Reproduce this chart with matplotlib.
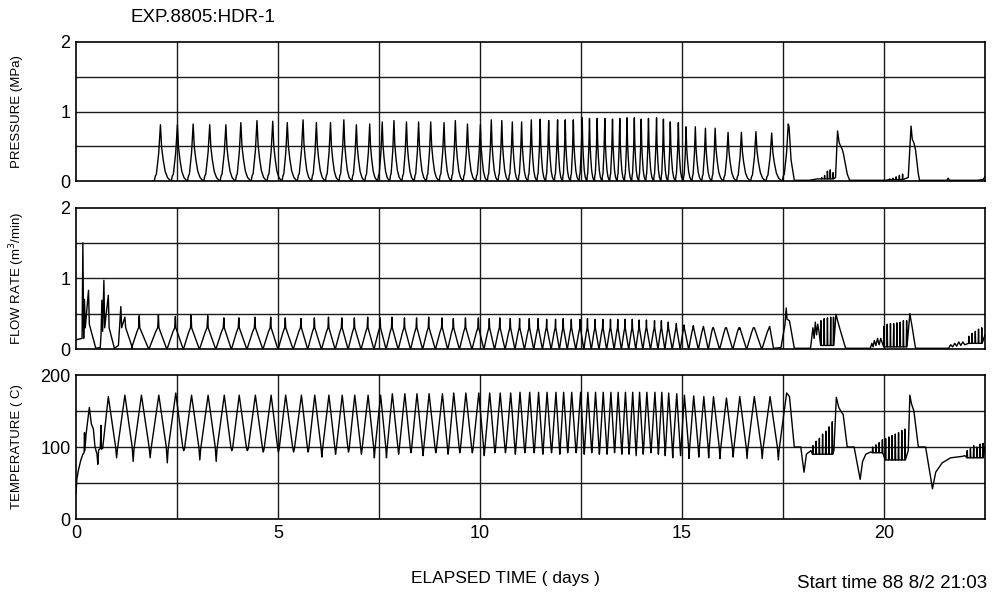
import numpy as np
import matplotlib
matplotlib.use("Agg")
import matplotlib.pyplot as plt

plt.rcParams['font.family'] = ['Liberation Sans', 'DejaVu Sans']

# ---- data (days) ----
# pressure cycle peaks
p_peak_t = [2.09, 2.51, 2.90, 3.31, 3.71, 4.08, 4.48, 4.87, 5.23, 5.62,
            5.95, 6.30, 6.63, 6.94, 7.27, 7.58, 7.87, 8.18, 8.48, 8.78,
            9.11, 9.39, 9.69, 10.01, 10.28, 10.54, 10.80, 11.03, 11.27, 11.49,
            11.70, 11.92, 12.11, 12.31, 12.53, 12.71, 12.90, 13.09, 13.28, 13.46,
            13.64, 13.82, 13.99, 14.17, 14.37, 14.54, 14.71, 14.91, 15.10, 15.33,
            15.58, 15.82, 16.14, 16.47, 16.83, 17.22, 17.63]
p_peak_v = [0.81, 0.81, 0.82, 0.81, 0.81, 0.84, 0.87, 0.86, 0.84, 0.88,
            0.84, 0.84, 0.88, 0.81, 0.82, 0.85, 0.87, 0.85, 0.85, 0.85,
            0.84, 0.87, 0.82, 0.81, 0.88, 0.87, 0.85, 0.85, 0.88, 0.89,
            0.87, 0.88, 0.88, 0.88, 0.91, 0.90, 0.90, 0.90, 0.89, 0.90,
            0.91, 0.91, 0.89, 0.90, 0.91, 0.89, 0.85, 0.84, 0.78, 0.78,
            0.76, 0.76, 0.70, 0.70, 0.71, 0.69, 0.82]
# shape of one pressure spike: (offset as fraction of cycle, fraction of peak)
p_profile = [(-0.36, 0.0), (-0.30, 0.09), (-0.24, 0.12), (-0.10, 0.5), (0.0, 1.0),
             (0.07, 0.6), (0.16, 0.38), (0.28, 0.17), (0.42, 0.06), (0.58, 0.01)]

# pressure after the regular cycles
p_late_t = [17.65, 17.70, 17.78, 18.15, 18.35, 18.80, 18.85, 18.89, 18.93, 18.97,
            19.00, 19.09, 19.15, 20.04, 20.60, 20.67, 20.70, 20.74, 20.78, 20.85,
            20.88, 21.55, 21.59, 21.62, 22.30, 22.45, 22.50]
p_late_v = [0.78, 0.30, 0.01, 0.01, 0.03, 0.05, 0.72, 0.55, 0.50, 0.45,
            0.38, 0.10, 0.01, 0.01, 0.05, 0.79, 0.60, 0.55, 0.45, 0.10,
            0.01, 0.01, 0.04, 0.01, 0.01, 0.02, 0.06]
p_tick1_t = [18.46, 18.53, 18.60, 18.67, 18.74]
p_tick1_v = [0.05, 0.08, 0.14, 0.16, 0.12]
p_tick2_t = [20.14, 20.22, 20.30, 20.38, 20.46]
p_tick2_v = [0.03, 0.04, 0.06, 0.08, 0.10]

# flow rate
f_early_t = [0.0, 0.15, 0.17, 0.19, 0.21, 0.23, 0.31, 0.33, 0.49, 0.60,
             0.62, 0.64, 0.66, 0.69, 0.71, 0.80, 0.82, 0.95, 1.05, 1.11,
             1.13, 1.21, 1.23, 1.40]
f_early_v = [0.13, 0.15, 1.50, 0.15, 0.70, 0.30, 0.83, 0.35, 0.01, 0.02,
             0.20, 0.69, 0.25, 0.97, 0.30, 0.76, 0.30, 0.01, 0.05, 0.60,
             0.30, 0.45, 0.30, 0.01]
f_lead = 0.05  # flow peaks come slightly before pressure peaks
f_first_t = 1.565
f_peak_v = [0.47, 0.48, 0.46, 0.48, 0.47, 0.44, 0.44, 0.45, 0.45, 0.44,
            0.43, 0.44, 0.45, 0.44, 0.44, 0.45, 0.44, 0.45, 0.44, 0.44,
            0.45, 0.44, 0.43, 0.44, 0.44, 0.43, 0.44, 0.43, 0.43, 0.43,
            0.43, 0.42, 0.42, 0.43, 0.42, 0.42, 0.43, 0.42, 0.42, 0.42,
            0.42, 0.42, 0.42, 0.41, 0.41, 0.40, 0.40, 0.38, 0.36, 0.34,
            0.33, 0.32, 0.30, 0.30, 0.28, 0.30, 0.32]
f_profile = [(-0.95, 0.01), (-0.30, 0.24), (-0.08, 0.30), (0.0, None), (0.06, 0.30), (0.95, 0.01)]

f_late_t = [17.45, 17.55, 17.58, 17.60, 17.66, 17.78, 18.18, 18.20, 18.24, 18.27,
            18.30, 18.33, 18.36, 18.39]
f_late_v = [0.02, 0.35, 0.58, 0.42, 0.40, 0.01, 0.01, 0.10, 0.30, 0.15,
            0.38, 0.20, 0.35, 0.25]
f_tick1_t = [18.44, 18.52, 18.60, 18.68, 18.75]
f_tick1_v = [0.40, 0.43, 0.44, 0.45, 0.45]
f_mid_t = [18.81, 18.90, 19.05, 19.66, 19.70, 19.73, 19.76, 19.80, 19.84, 19.88, 19.92]
f_mid_v = [0.49, 0.30, 0.01, 0.01, 0.08, 0.03, 0.12, 0.05, 0.15, 0.06, 0.15]
f_tick2_t = [20.00, 20.08, 20.16, 20.24, 20.32, 20.40, 20.48, 20.56]
f_tick2_v = [0.32, 0.35, 0.36, 0.36, 0.37, 0.38, 0.40, 0.40]
f_end_t = [20.64, 20.70, 20.78, 21.60, 21.65, 21.70, 21.75, 21.80, 21.85, 21.90, 21.95, 22.00]
f_end_v = [0.50, 0.30, 0.01, 0.01, 0.06, 0.03, 0.08, 0.04, 0.10, 0.05, 0.10, 0.06]
f_tick3_t = [22.10, 22.18, 22.26, 22.34, 22.42]
f_tick3_v = [0.18, 0.22, 0.25, 0.28, 0.30]

# temperature
t_early_t = [0.0, 0.02, 0.06, 0.12, 0.17, 0.20, 0.21, 0.22, 0.25, 0.33,
             0.38, 0.43, 0.47, 0.52, 0.54, 0.56, 0.60, 0.62, 0.63, 0.66]
t_early_v = [35, 55, 68, 82, 90, 92, 120, 95, 118, 155,
             132, 125, 100, 90, 76, 96, 98, 130, 97, 98]
t_pre_peak_t = [0.80, 1.21, 1.62]
t_pre_peak_v = [170, 172, 172]
t_lead = 0.04
t_peak_v = [172, 175, 172, 172, 172, 172, 172, 172, 172, 172,
            172, 172, 172, 172, 172, 172, 174, 174, 174, 174,
            174, 175, 175, 175, 175, 175, 175, 176, 176, 176,
            176, 176, 176, 176, 176, 176, 176, 176, 176, 176,
            176, 176, 176, 176, 176, 176, 175, 174, 172, 171,
            170, 170, 168, 170, 170, 170, 175]
t_trough_v = [85, 80, 85,
              78, 95, 82, 80, 95, 95, 93, 93, 93, 93,
              86, 90, 93, 90, 85, 85, 90, 92, 88, 92,
              90, 92, 92, 88, 92, 92, 90, 92, 92, 90,
              92, 90, 92, 92, 90, 92, 90, 90, 92, 90,
              90, 88, 90, 92, 90, 88, 85, 88, 84, 86,
              85, 84, 86, 84, 84, 82]

t_late_t = [17.66, 17.78, 17.94, 18.02, 18.08, 18.19]
t_late_v = [170, 100, 100, 65, 90, 95]
t_tick1_t = [18.24, 18.32, 18.40, 18.48, 18.56, 18.64, 18.72]
t_tick1_v = [102, 108, 112, 118, 122, 128, 135]
t_mid_t = [18.76, 18.82, 18.88, 18.93, 18.99, 19.09, 19.26, 19.41, 19.47, 19.55, 19.67]
t_mid_v = [95, 169, 155, 150, 145, 100, 100, 55, 80, 90, 93]
t_tick2_t = [19.72, 19.80, 19.88, 19.96]
t_tick2_v = [100, 103, 106, 110]
t_tick3_t = [20.04, 20.12, 20.20, 20.28, 20.36, 20.44, 20.52]
t_tick3_v = [112, 114, 116, 118, 120, 123, 125]
t_end_t = [20.60, 20.64, 20.68, 20.74, 20.85, 21.03, 21.20, 21.28, 21.44, 21.65, 21.94, 22.00]
t_end_v = [95, 172, 160, 150, 100, 100, 42, 65, 78, 85, 87, 88]
t_tick4_t = [22.06, 22.14, 22.22, 22.30, 22.38, 22.45]
t_tick4_v = [95, 98, 102, 100, 104, 105]


def ticks(ts, vs, base, w=0.008):
    xs, ys = [], []
    for t, v in zip(ts, vs):
        xs += [t - w, t, t + w]
        ys += [base, v, base]
    return xs, ys


# ---- build pressure trace ----
px, py = [1.9], [0.0]
n = len(p_peak_t)
for i, (t, v) in enumerate(zip(p_peak_t, p_peak_v)):
    left = t - p_peak_t[i - 1] if i > 0 else 0.42
    right = p_peak_t[i + 1] - t if i < n - 1 else 0.4
    for off, fr in p_profile:
        if i == n - 1 and off > 0:
            break
        px.append(t + off * (left if off < 0 else right))
        py.append(fr * v)
px += p_late_t[:5]; py += p_late_v[:5]
a, b = ticks(p_tick1_t, p_tick1_v, 0.03); px += a; py += b
px += p_late_t[5:14]; py += p_late_v[5:14]
a, b = ticks(p_tick2_t, p_tick2_v, 0.02); px += a; py += b
px += p_late_t[14:]; py += p_late_v[14:]

# ---- build flow trace ----
fx, fy = list(f_early_t), list(f_early_v)
tent_t = [f_first_t] + [t - f_lead for t in p_peak_t[:-1]]
for i, (t, v) in enumerate(zip(tent_t, f_peak_v)):
    hl = (t - tent_t[i - 1]) / 2 if i > 0 else 0.2
    hr = (tent_t[i + 1] - t) / 2 if i < len(tent_t) - 1 else 0.1
    for off, fr in f_profile:
        fx.append(t + off * (hl if off < 0 else hr))
        fy.append(v if fr is None else fr)
fx += f_late_t; fy += f_late_v
a, b = ticks(f_tick1_t, f_tick1_v, 0.05); fx += a; fy += b
fx += f_mid_t; fy += f_mid_v
a, b = ticks(f_tick2_t, f_tick2_v, 0.03); fx += a; fy += b
fx += f_end_t; fy += f_end_v
a, b = ticks(f_tick3_t, f_tick3_v, 0.08); fx += a; fy += b
fx.append(22.5); fy.append(0.2)

# ---- build temperature trace ----
tx, ty = list(t_early_t), list(t_early_v)
pk_t = t_pre_peak_t + [t - t_lead for t in p_peak_t]
pk_v = t_pre_peak_v + t_peak_v
for i in range(len(pk_t)):
    tx.append(pk_t[i]); ty.append(pk_v[i])
    if i < len(pk_t) - 1:
        g = pk_t[i + 1] - pk_t[i]
        mid = pk_t[i] + 0.5 * g
        tx += [mid - 0.06 * g, mid, mid + 0.05 * g]
        ty += [100, t_trough_v[i], 97]
tx += t_late_t; ty += t_late_v
a, b = ticks(t_tick1_t, t_tick1_v, 90); tx += a; ty += b
tx += t_mid_t; ty += t_mid_v
a, b = ticks(t_tick2_t, t_tick2_v, 92); tx += a; ty += b
a, b = ticks(t_tick3_t, t_tick3_v, 82); tx += a; ty += b
tx += t_end_t; ty += t_end_v
a, b = ticks(t_tick4_t, t_tick4_v, 85); tx += a; ty += b
tx.append(22.5); ty.append(100)

# ---- figure ----
fig = plt.figure(figsize=(9.93, 5.93), dpi=100)
W, H = 993, 593
left_px, right_px = 76, 985
panels = [(42, 181), (207.5, 349), (375, 519)]
axes = []
for top, bot in panels:
    ax = fig.add_axes([left_px / W, 1 - bot / H, (right_px - left_px) / W, (bot - top) / H])
    axes.append(ax)

specs = [
    (axes[0], px, py, 2, [0, 1, 2], [0.5, 1.0, 1.5], 'PRESSURE (MPa)'),
    (axes[1], fx, fy, 2, [0, 1, 2], [0.5, 1.0, 1.5], 'FLOW RATE (m$^3$/min)'),
    (axes[2], tx, ty, 200, [0, 100, 200], [50, 100, 150], 'TEMPERATURE ( C)'),
]
for ax, xs, ys, ymax, yt, hg, lab in specs:
    ax.set_xlim(0, 22.5)
    ax.set_ylim(0, ymax)
    for g in hg:
        ax.axhline(g, color='#1a1a1a', lw=1.0, zorder=1)
    for g in np.arange(2.5, 22.5, 2.5):
        ax.axvline(g, color='#1a1a1a', lw=1.0, zorder=1)
    ax.plot(xs, ys, color='black', lw=1.0, zorder=3)
    ax.set_yticks(yt)
    ax.set_yticklabels([str(v) for v in yt], fontsize=13)
    ax.set_xticks([0, 5, 10, 15, 20])
    ax.tick_params(length=0, pad=4)
    for s in ax.spines.values():
        s.set_linewidth(1.2)
    pos = ax.get_position()
    fig.text(17 / W, pos.y0 + pos.height / 2, lab, rotation=90, ha='center', va='center',
             fontsize=9.5)

axes[0].set_xticklabels([])
axes[1].set_xticklabels([])
axes[2].set_xticklabels(['0', '5', '10', '15', '20'], fontsize=13)

fig.text(203 / W, 1 - 17 / H, 'EXP.8805:HDR-1', ha='center', va='center', fontsize=13.5)
fig.text(505 / W, 1 - 578 / H, 'ELAPSED TIME ( days )', ha='center', va='center', fontsize=12.5)
fig.text(987 / W, 1 - 583 / H, 'Start time 88 8/2 21:03', ha='right', va='center', fontsize=13.5)

fig.savefig('out.png', dpi=100)
